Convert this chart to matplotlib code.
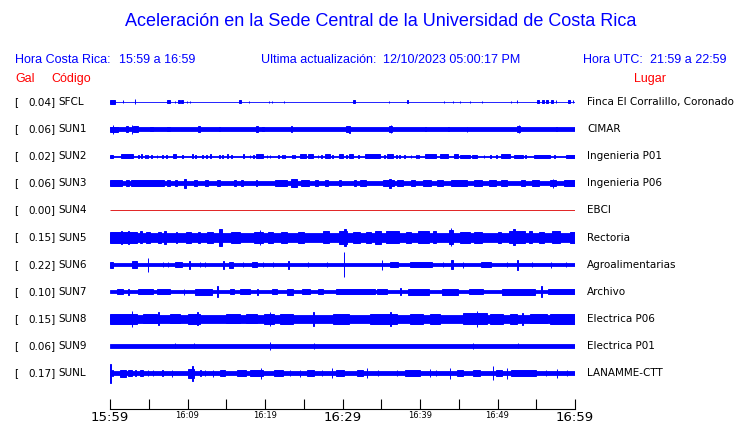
import matplotlib
matplotlib.use("Agg")
import matplotlib.pyplot as plt

# station codes, peak acceleration (Gal) and site names, top to bottom
codes = ['SFCL', 'SUN1', 'SUN2', 'SUN3', 'SUN4', 'SUN5', 'SUN6', 'SUN7', 'SUN8', 'SUN9', 'SUNL']
gal = [0.04, 0.06, 0.02, 0.06, 0.00, 0.15, 0.22, 0.10, 0.15, 0.06, 0.17]
places = ['Finca El Corralillo, Coronado', 'CIMAR', 'Ingenieria P01', 'Ingenieria P06', 'EBCI',
          'Rectoria', 'Agroalimentarias', 'Archivo', 'Electrica P06', 'Electrica P01', 'LANAMME-CTT']

# half width of the quiet trace (screen px)
base = [0.4, 1.7, 0.4, 1.9, 0.0, 4.2, 1.6, 1.7, 3.8, 1.7, 1.6]

# bursts: (start minute, end minute, half height px)
bursts = {
    'SFCL': [(0, 0.6, 2), (1.7, 1.7, 1.5), (3.2, 3.2, 2.5), (7.4, 7.7, 1.5), (8.4, 8.4, 1), (8.8, 9.0, 1.5),
             (9.2, 9.4, 1.5), (9.9, 9.9, 1), (10.3, 10.3, 1), (16.7, 16.9, 1.5), (17.9, 17.9, 1), (20.5, 20.5, 1),
             (20.9, 20.9, 1), (22.4, 22.4, 1), (31.3, 31.6, 1.5), (36.0, 36.0, 1), (38.3, 38.5, 1.5), (43.1, 43.1, 1),
             (44.3, 44.3, 1), (45.2, 45.2, 1), (46.4, 46.4, 1), (48.0, 48.0, 1), (51.7, 51.7, 1), (52.5, 52.5, 1.5),
             (55.1, 55.4, 1.5), (55.8, 56.0, 1.5), (56.3, 56.5, 1.5), (56.9, 57.1, 1.5), (57.5, 57.6, 1.5),
             (59.1, 59.3, 1.5), (59.7, 59.8, 1.5)],
    'SUN1': [(0.0, 1.0, 2.5), (0.4, 0.4, 4.5), (2.0, 2.3, 2.8), (2.8, 2.8, 4.5), (3.0, 3.6, 3), (5.2, 5.6, 2.4),
             (7.4, 7.8, 2.4), (11.3, 11.6, 2.6), (14.0, 14.2, 2.4), (18.8, 19.1, 2.8), (19.6, 19.9, 2.4),
             (23.3, 23.5, 2.8), (30.5, 30.9, 2.8), (30.9, 31.0, 3.5), (36.0, 36.4, 3), (36.2, 36.2, 4),
             (40.6, 40.8, 2.4), (43.6, 43.8, 2.4), (46.0, 46.0, 2.5), (52.5, 52.9, 3), (52.8, 52.8, 4),
             (57.5, 57.7, 2.4)],
    'SUN2': [(0, 0.4, 1.5), (1.4, 3.0, 1.8), (3.6, 3.7, 1.5), (4.0, 4.1, 1.8), (4.5, 4.6, 1.5), (4.8, 4.9, 1.5),
             (5.3, 5.4, 1.5), (6.0, 6.1, 1.5), (6.7, 6.8, 1.5), (7.2, 7.3, 1.5), (8.1, 8.5, 1.8), (9.3, 9.4, 1.5),
             (10.6, 10.7, 2), (11.0, 11.1, 1.5), (11.9, 12.0, 1.5), (12.4, 12.5, 1.5), (12.9, 13.0, 1.8),
             (14.1, 14.2, 1.5), (14.5, 14.6, 1.5), (15.1, 15.2, 1.8), (15.6, 15.7, 1.5), (17.2, 17.3, 2),
             (18.0, 18.1, 1.5), (18.5, 18.6, 1.5), (18.9, 19.7, 1.8), (20.2, 20.3, 1.5), (20.6, 20.7, 1.5),
             (21.7, 21.8, 1.5), (22.2, 22.3, 1.5), (22.5, 22.6, 1.5), (23.5, 23.6, 1.5), (23.8, 23.9, 1.5),
             (24.5, 25.3, 1.8), (25.6, 26.2, 1.8), (26.8, 26.9, 1.5), (27.2, 27.3, 1.5), (27.8, 28.4, 1.8),
             (28.7, 28.8, 1.5), (29.5, 30.0, 1.8), (30.5, 30.6, 1.5), (30.8, 31.4, 1.8), (32.0, 32.1, 1.5),
             (32.9, 34.8, 1.8), (35.4, 35.5, 1.5), (35.8, 36.5, 1.8), (36.9, 37.0, 1.5), (37.3, 37.4, 1.5),
             (37.9, 38.0, 1.5), (38.8, 38.9, 1.5), (39.5, 39.6, 1.5), (39.8, 39.9, 1.5), (40.6, 42.1, 1.8),
             (42.6, 43.6, 1.8), (44.4, 44.9, 1.8), (45.2, 46.4, 1.6), (46.7, 47.4, 1.6), (48.2, 48.3, 1.5),
             (49.0, 49.1, 1.5), (49.8, 49.9, 1.5), (50.5, 51.6, 1.8), (52.1, 53.3, 1.6), (53.6, 53.7, 1.5),
             (54.7, 56.8, 1.6), (57.3, 57.4, 1.5), (58.8, 60.0, 1.6)],
    'SUN3': [(0, 1.6, 3), (2.0, 2.4, 2.8), (2.7, 7.0, 3), (7.3, 7.7, 2.8), (8.4, 8.6, 2.8), (9.6, 9.8, 4.5),
             (10.8, 11.2, 2.8), (12.3, 12.6, 2.8), (13.8, 14.2, 2.8), (16.0, 16.2, 2.8), (16.9, 17.2, 2.8),
             (18.8, 19.0, 2.8), (21.3, 22.9, 3), (23.3, 24.1, 3.8), (24.6, 25.7, 3), (26.5, 26.8, 2.8),
             (27.8, 28.1, 2.8), (29.6, 29.8, 2.8), (31.5, 31.8, 2.8), (32.3, 33.0, 2.8), (35.2, 36.6, 3),
             (36.0, 36.3, 4.5), (37.0, 37.8, 2.8), (38.8, 39.3, 2.8), (40.4, 41.4, 3), (42.2, 43.0, 2.8),
             (44.0, 46.0, 3), (47.0, 48.0, 2.8), (48.9, 49.8, 3), (50.5, 51.2, 2.8), (53.0, 53.5, 2.8),
             (54.5, 55.3, 3), (56.8, 57.6, 3), (57.2, 57.2, 4.5), (58.6, 60.0, 3)],
    'SUN4': [],
    'SUN5': [(0, 3.5, 5.5), (1.4, 1.5, 6.5), (2.3, 2.4, 6.5), (3.9, 4.1, 6), (4.6, 5.2, 5.5), (6.2, 6.6, 5.5),
             (7.0, 7.2, 6.5), (8.5, 8.7, 5.5), (9.8, 10.4, 5.5), (11.3, 11.6, 5.5), (12.5, 13.3, 5.5),
             (14.0, 14.4, 8.5), (15.6, 16.8, 5.5), (18.6, 19.7, 5.8), (19.3, 19.3, 7.5), (20.4, 21.0, 5.5),
             (22.0, 22.9, 5.5), (24.2, 25.0, 5.5), (27.5, 28.3, 6), (29.5, 30.6, 6.5), (30.2, 30.4, 8.5),
             (31.3, 32.2, 5.5), (33.0, 33.7, 5.5), (34.2, 35.0, 6.5), (35.6, 37.3, 6), (38.2, 38.9, 5.5),
             (39.8, 41.2, 6), (41.7, 42.0, 6), (43.8, 44.2, 7), (44.0, 44.0, 9), (45.2, 46.4, 5.5),
             (47.0, 48.0, 5.5), (50.0, 50.5, 5.5), (51.5, 53.5, 6), (52.0, 52.2, 8), (54.0, 54.5, 6),
             (55.3, 56.0, 5.5), (57.0, 58.0, 6), (59.3, 60.0, 5.5)],
    'SUN6': [(0, 0.4, 3), (2.8, 3.5, 3.2), (4.9, 4.9, 7), (6.8, 6.8, 2.5), (7.5, 7.5, 2.5), (8.4, 9.3, 2.4),
             (10.2, 10.3, 4), (11.6, 11.6, 2.5), (12.3, 12.3, 2.5), (14.6, 14.7, 4), (15.4, 15.9, 3),
             (17.2, 17.2, 2.5), (18.3, 19.0, 2.4), (19.8, 19.8, 2.5), (21.0, 21.0, 2.5), (23.0, 23.1, 4),
             (25.5, 25.5, 2.5), (28.0, 28.0, 2.5), (30.2, 30.2, 12.5), (35.1, 35.1, 5), (36.1, 37.1, 2.4),
             (38.7, 41.5, 2.5), (43.0, 43.0, 2.5), (44.0, 44.2, 4.5), (45.6, 45.6, 3), (47.9, 49.2, 2.4),
             (51.2, 51.2, 2.5), (52.5, 52.7, 5), (54.5, 54.5, 2.5), (56.9, 56.9, 3), (58.9, 58.9, 2.5)],
    'SUN7': [(0.9, 1.7, 2.6), (2.3, 2.4, 3), (3.6, 5.6, 2.6), (6.1, 7.8, 2.6), (9.5, 9.6, 3), (11.0, 13.2, 3),
             (13.8, 14.0, 5.5), (15.5, 16.0, 2.6), (16.8, 18.1, 2.6), (19.0, 19.1, 3), (20.9, 21.5, 2.6),
             (22.8, 23.6, 2.8), (24.8, 25.8, 2.6), (26.8, 27.5, 2.6), (29.2, 30.6, 2.6), (30.6, 34.2, 2.6),
             (34.4, 35.7, 2.6), (37.4, 37.6, 3.5), (38.4, 41.1, 2.8), (42.8, 44.9, 2.8), (46.3, 48.1, 2.6),
             (50.6, 54.9, 2.8), (55.6, 55.7, 5.5), (56.5, 60, 2.6)],
    'SUN8': [(0, 3.5, 5.3), (2.8, 2.9, 8), (4.3, 6.1, 4.6), (6.2, 6.3, 6.5), (7.7, 9.0, 4.6), (10.0, 11.6, 5),
             (11.2, 11.3, 6.5), (15.0, 16.8, 4.6), (17.5, 19.0, 4.6), (19.9, 21.2, 5), (20.6, 20.7, 7),
             (21.9, 23.6, 5), (26.2, 26.3, 7), (28.8, 30.9, 5.3), (33.5, 37.0, 5.3), (36.1, 36.2, 7),
             (38.7, 40.4, 5), (41.3, 42.6, 5.3), (45.5, 48.6, 5.5), (47.3, 47.4, 8), (49.0, 50.7, 5.3),
             (51.6, 52.5, 5), (53.2, 53.3, 6), (54.2, 56.4, 4.6), (56.8, 60, 5.3)],
    'SUN9': [(8.4, 8.4, 2.5), (10.8, 10.8, 2.5), (20.6, 20.6, 4), (26.3, 26.3, 3), (46.8, 46.8, 3),
             (52.6, 52.6, 2.5)],
    'SUNL': [(0.0, 0.1, 9.5), (0.3, 0.4, 3), (1.3, 2.0, 3.5), (2.3, 2.8, 2.8), (3.2, 3.3, 3), (3.9, 4.3, 2.8),
             (4.9, 4.9, 3), (5.5, 5.6, 3), (6.7, 6.8, 3), (8.0, 8.0, 3.5), (10.1, 10.9, 4.5), (10.6, 10.7, 7.5),
             (11.6, 11.7, 3), (12.2, 12.3, 3), (13.3, 13.3, 3.5), (14.2, 14.8, 2.8), (16.4, 17.6, 2.6),
             (18.1, 19.8, 2.8), (19.5, 19.5, 5.5), (21.1, 22.3, 2.6), (23.2, 23.2, 3), (24.5, 24.5, 3.5),
             (25.4, 26.3, 2.6), (27.3, 27.3, 3), (28.6, 28.6, 5), (29.2, 30.2, 3), (31.9, 32.7, 2.6),
             (33.1, 33.1, 5), (34.6, 34.6, 3), (37.0, 37.0, 3.2), (38.0, 40.0, 2.6), (41.3, 41.3, 4),
             (42.1, 42.1, 3), (43.9, 43.9, 5.5), (44.8, 45.6, 2.6), (46.8, 47.7, 2.6), (49.4, 49.4, 7),
             (49.8, 50.6, 2.8), (51.2, 51.2, 5.5), (51.7, 55.0, 2.6), (56.3, 56.3, 3), (57.7, 57.7, 4.5),
             (59.0, 59.0, 3)],
}

time_ticks = list(range(0, 61, 5))
time_labels = ['15:59', '16:09', '16:19', '16:29', '16:39', '16:49', '16:59']

W, H = 740, 423
BLUE = '#0000ff'
RED = '#ff0000'
pitch = 27.1          # px between traces
top_row = 102         # px of first trace


def fx(x):
    return x / W


def fy(y):
    return 1 - y / H


fig = plt.figure(figsize=(W / 100, H / 100), dpi=100)

# traces
ax = fig.add_axes([fx(110), fy(top_row + 10.5 * pitch), fx(575) - fx(110), 11 * pitch / H])
ax.set_xlim(0, 60)
ax.set_ylim(10.5 * pitch, -0.5 * pitch)
ax.axis('off')

for i, code in enumerate(codes):
    yc = i * pitch
    col = '#dd0000' if code == 'SUN4' else BLUE
    ax.bar(0, 2 * base[i], bottom=yc - base[i], width=60, align='edge',
           color=col, edgecolor=col, linewidth=0.6)
    ev = bursts[code]
    if ev:
        x0 = [e[0] for e in ev]
        wd = [e[1] - e[0] for e in ev]
        hh = [e[2] for e in ev]
        ax.bar(x0, [2 * h for h in hh], bottom=[yc - h for h in hh], width=wd, align='edge',
               color=BLUE, edgecolor=BLUE, linewidth=0.7)

    ty = top_row + i * pitch
    fig.text(fx(14), fy(ty), '[', fontsize=7.5, va='center', ha='left')
    fig.text(fx(55.5), fy(ty), f'{gal[i]:.2f}]', fontsize=7.5, va='center', ha='right')
    fig.text(fx(58.5), fy(ty), code, fontsize=7.5, va='center', ha='left')
    fig.text(fx(587), fy(ty), places[i], fontsize=7.5, va='center', ha='left')

# time axis
tax = fig.add_axes([fx(110), fy(409), fx(575) - fx(110), 0.001])
tax.set_xlim(0, 60)
tax.set_yticks([])
for s in ['top', 'left', 'right']:
    tax.spines[s].set_visible(False)
tax.spines['bottom'].set_linewidth(0.8)
tax.set_xticks(time_ticks)
tax.set_xticklabels([time_labels[t // 10] if t % 10 == 0 else '' for t in time_ticks])
tax.tick_params(axis='x', direction='in', length=7.5, width=0.8, pad=1.5)
for lab, t in zip(tax.get_xticklabels(), time_ticks):
    lab.set_fontsize(9.5 if t % 30 == 0 else 6)

# headings
sans = 'Liberation Sans'
fig.text(fx(381), fy(22), 'Aceleración en la Sede Central de la Universidad de Costa Rica',
         color=BLUE, fontsize=13, family=sans, ha='center', va='center')
fig.text(fx(15), fy(60), 'Hora Costa Rica:', color=BLUE, fontsize=9, family=sans, va='center')
fig.text(fx(119), fy(60), '15:59 a 16:59', color=BLUE, fontsize=9, family=sans, va='center')
fig.text(fx(261), fy(60), 'Ultima actualización:', color=BLUE, fontsize=9, family=sans, va='center')
fig.text(fx(383), fy(60), '12/10/2023 05:00:17 PM', color=BLUE, fontsize=9, family=sans, va='center')
fig.text(fx(583), fy(60), 'Hora UTC:', color=BLUE, fontsize=9, family=sans, va='center')
fig.text(fx(727), fy(60), '21:59 a 22:59', color=BLUE, fontsize=9, family=sans, va='center', ha='right')
fig.text(fx(15), fy(79), 'Gal', color=RED, fontsize=9, family=sans, va='center')
fig.text(fx(51), fy(79), 'Código', color=RED, fontsize=9, family=sans, va='center')
fig.text(fx(634), fy(79), 'Lugar', color=RED, fontsize=9, family=sans, va='center')

fig.savefig('out.png', dpi=100, facecolor='white')
